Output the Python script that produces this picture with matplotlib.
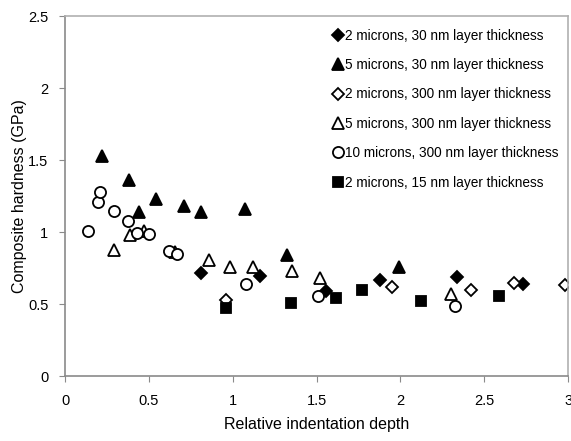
import matplotlib
matplotlib.use("Agg")
import matplotlib.pyplot as plt

plt.rcParams["font.family"] = ["Liberation Sans", "DejaVu Sans"]

# 2 microns, 30 nm layer thickness (filled diamond)
d2_30_x = [0.81, 1.16, 1.556, 1.88, 2.34, 2.73]
d2_30_y = [0.72, 0.695, 0.59, 0.67, 0.69, 0.64]

# 5 microns, 30 nm layer thickness (filled triangle)
t5_30_x = [0.22, 0.38, 0.44, 0.54, 0.71, 0.81, 1.075, 1.325, 1.99]
t5_30_y = [1.53, 1.36, 1.14, 1.23, 1.18, 1.14, 1.16, 0.845, 0.76]

# 2 microns, 300 nm layer thickness (open diamond)
d2_300_x = [0.96, 1.95, 2.42, 2.68, 2.98]
d2_300_y = [0.53, 0.62, 0.60, 0.65, 0.635]

# 5 microns, 300 nm layer thickness (open triangle)
t5_300_x = [0.29, 0.39, 0.47, 0.655, 0.857, 0.985, 1.12, 1.355, 1.52, 2.30]
t5_300_y = [0.875, 0.98, 1.01, 0.865, 0.805, 0.76, 0.755, 0.73, 0.68, 0.57]

# 10 microns, 300 nm layer thickness (open circle)
c10_300_x = [0.137, 0.195, 0.21, 0.29, 0.375, 0.43, 0.50, 0.62, 0.67, 1.08, 1.51, 2.325]
c10_300_y = [1.01, 1.21, 1.28, 1.15, 1.08, 0.995, 0.99, 0.87, 0.85, 0.64, 0.56, 0.49]

# 2 microns, 15 nm layer thickness (filled square)
s2_15_x = [0.96, 1.35, 1.615, 1.77, 2.12, 2.59]
s2_15_y = [0.475, 0.51, 0.54, 0.60, 0.52, 0.555]

fig = plt.figure(figsize=(5.71, 4.41), dpi=100)
ax = fig.add_axes([0.114, 0.147, 0.881, 0.816])

kw = dict(linestyle="none", markeredgewidth=1.3)
ax.plot(d2_30_x, d2_30_y, marker="D", markersize=6, color="black", label="2 microns, 30 nm layer thickness", **kw)
ax.plot(t5_30_x, t5_30_y, marker="^", markersize=8, color="black", label="5 microns, 30 nm layer thickness", **kw)
ax.plot(d2_300_x, d2_300_y, marker="D", markersize=6, color="black", markerfacecolor="white",
        label="2 microns, 300 nm layer thickness", **kw)
ax.plot(t5_300_x, t5_300_y, marker="^", markersize=8, color="black", markerfacecolor="white",
        label="5 microns, 300 nm layer thickness", **kw)
ax.plot(c10_300_x, c10_300_y, marker="o", markersize=8, color="black", markerfacecolor="white",
        label="10 microns, 300 nm layer thickness", **kw)
ax.plot(s2_15_x, s2_15_y, marker="s", markersize=7, color="black", label="2 microns, 15 nm layer thickness", **kw)

ax.set_xlim(0, 3)
ax.set_ylim(0, 2.5)
ax.set_xticks([0, 0.5, 1, 1.5, 2, 2.5, 3])
ax.set_xticklabels(["0", "0.5", "1", "1.5", "2", "2.5", "3"])
ax.set_yticks([0, 0.5, 1, 1.5, 2, 2.5])
ax.set_yticklabels(["0", "0.5", "1", "1.5", "2", "2.5"])

for s in ax.spines.values():
    s.set_color("#8a8a8a")
    s.set_linewidth(1.2)
ax.spines["top"].set_color("#b0b0b0")
ax.spines["right"].set_color("#b0b0b0")

ax.tick_params(direction="out", length=4, color="#8a8a8a", labelsize=10.5, pad=8)
ax.tick_params(axis="x", pad=9)

ax.set_xlabel("Relative indentation depth", fontsize=11.5, labelpad=6)
ax.set_ylabel("Composite hardness (GPa)", fontsize=11.5, labelpad=1)

ax.legend(loc="upper right", bbox_to_anchor=(1.0, 0.992), frameon=False, fontsize=9.8,
          handletextpad=0.05, labelspacing=1.13, handlelength=1.0, borderaxespad=0.3)

fig.savefig("out.png", dpi=100)
